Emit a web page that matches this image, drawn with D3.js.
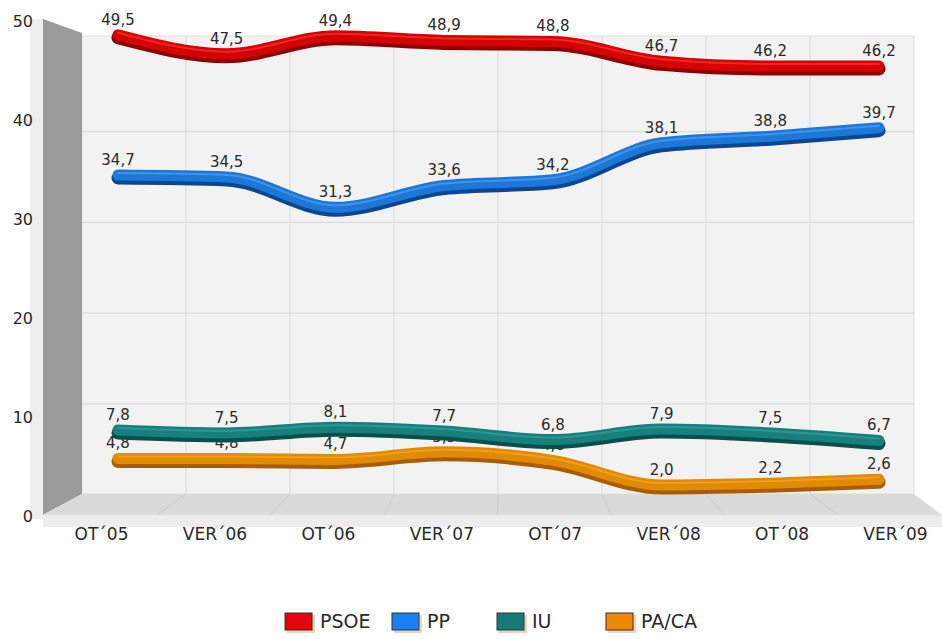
<!DOCTYPE html>
<html><head><meta charset="utf-8">
<script src="https://cdn.jsdelivr.net/npm/d3@7"></script>
<style>body{margin:0;background:#fff}svg{display:block}text{font-family:"DejaVu Sans",Verdana,sans-serif;fill:#2a2a2a}</style>
</head><body>
<svg id="c" width="942" height="639"></svg>
<script>
const categories = ["OT\u00b405","VER\u00b406","OT\u00b406","VER\u00b407","OT\u00b407","VER\u00b408","OT\u00b408","VER\u00b409"];
const psoe = [49.5,47.5,49.4,48.9,48.8,46.7,46.2,46.2];
const pp   = [34.7,34.5,31.3,33.6,34.2,38.1,38.8,39.7];
const iu   = [7.8,7.5,8.1,7.7,6.8,7.9,7.5,6.7];
const paca = [4.8,4.8,4.7,5.5,4.6,2.0,2.2,2.6];
const seriesNames = ["PSOE","PP","IU","PA/CA"];
const yTicks = [0,10,20,30,40,50];

const colors = {
  "PSOE":{main:"#d80000",dark:"#8e0000",light:"#ff5a5a",leg:"#e8000a"},
  "PP":{main:"#1c78d8",dark:"#0c4690",light:"#6fb4ff",leg:"#1a80f0"},
  "IU":{main:"#16807c",dark:"#0a4f4c",light:"#4fb0ac",leg:"#157a78"},
  "PA/CA":{main:"#e28a00",dark:"#a85e00",light:"#ffb84a",leg:"#f08800"}
};
const series = [
  {name:"PSOE",values:psoe},
  {name:"PP",values:pp},
  {name:"IU",values:iu},
  {name:"PA/CA",values:paca}
];

const svg = d3.select("#c");

// 3D frame geometry
const back = {x0:82,x1:914,y0:36,y1:494};
const front = {x0:43,x1:952,y:515};
const yBack = d3.scaleLinear().domain([0,50]).range([494.5,41]);
const yFront = d3.scaleLinear().domain([0,50]).range([516,21]);
const xBackBand = d3.scaleBand().domain(categories).range([back.x0,back.x1]);
const xFrontBand = d3.scaleBand().domain(categories).range([front.x0,front.x1]);

// thin light strip at left
svg.append("rect").attr("x",30).attr("y",19).attr("width",13).attr("height",500).attr("fill","#eeeeee");
// back wall
svg.append("rect").attr("x",back.x0).attr("y",back.y0).attr("width",back.x1-back.x0).attr("height",back.y1-back.y0)
  .attr("fill","#f2f2f2").attr("stroke","#e0e0e0");
// horizontal grid lines on back wall
svg.append("g").selectAll("line").data(yTicks.filter(d=>d>0&&d<50)).join("line")
  .attr("x1",back.x0).attr("x2",back.x1).attr("y1",d=>yBack(d)).attr("y2",d=>yBack(d))
  .attr("stroke","#dcdcdc").attr("stroke-width",1.2);
// vertical grid lines on back wall
svg.append("g").selectAll("line").data(categories.slice(1)).join("line")
  .attr("x1",d=>xBackBand(d)).attr("x2",d=>xBackBand(d)).attr("y1",back.y0).attr("y2",back.y1)
  .attr("stroke","#dcdcdc").attr("stroke-width",1.2);
// side wall
svg.append("path").attr("d",`M43,19 L82,33 L82,494 L43,515 Z`).attr("fill","#9b9b9b");
// floor
svg.append("path").attr("d",`M82,494 L914,494 L942,515 L43,515 Z`).attr("fill","#dadada");
svg.append("g").selectAll("line").data(categories.slice(1)).join("line")
  .attr("x1",d=>xBackBand(d)).attr("y1",494).attr("x2",d=>xFrontBand(d)).attr("y2",515)
  .attr("stroke","#cccccc").attr("stroke-width",1);
// front floor edge
svg.append("rect").attr("x",43).attr("y",515).attr("width",899).attr("height",12).attr("fill","#ededed");
svg.append("line").attr("x1",43).attr("x2",942).attr("y1",515).attr("y2",515).attr("stroke","#e4e4e4");

// axes labels
const yAxis = d3.axisLeft(yFront).tickValues(yTicks).tickSize(0).tickPadding(0).tickFormat(d3.format("d"));
const gy = svg.append("g").attr("transform","translate(33,0)").call(yAxis);
gy.select(".domain").remove();
gy.selectAll("text").attr("font-size",16).attr("font-family","DejaVu Sans").attr("fill","#2a2a2a");

const xCat = d3.scalePoint().domain(categories).range([101,895]);
const xAxis = d3.axisBottom(xCat).tickSize(0).tickPadding(0);
const gx = svg.append("g").attr("transform","translate(0,528)").call(xAxis);
gx.select(".domain").remove();
gx.selectAll("text").attr("font-size",17).attr("font-family","DejaVu Sans").attr("fill","#2a2a2a");

// data scales
const x = d3.scalePoint().domain(categories).range([118,879]);
const y = d3.scaleLinear().domain([0,50]).range([505,31]);
const line = d3.line().x((d,i)=>x(categories[i])).y(d=>y(d)).curve(d3.curveMonotoneX);

const drawOrder = ["PA/CA","IU","PP","PSOE"];
const fmt = v => d3.format(".1f")(v).replace(".",",");
drawOrder.forEach(name=>{
  const s = series.find(d=>d.name===name);
  const c = colors[name];
  const g = svg.append("g");
  g.append("path").attr("d",line(s.values)).attr("fill","none").attr("stroke",c.dark)
    .attr("stroke-width",13).attr("stroke-linecap","round").attr("transform","translate(0,2)");
  g.append("path").attr("d",line(s.values)).attr("fill","none").attr("stroke",c.main)
    .attr("stroke-width",11).attr("stroke-linecap","round").attr("transform","translate(0,-1)");
  g.append("path").attr("d",line(s.values)).attr("fill","none").attr("stroke",c.light)
    .attr("stroke-width",2).attr("stroke-linecap","round").attr("opacity",0.45).attr("transform","translate(0,-3)");
  g.selectAll("text").data(s.values).join("text")
    .attr("x",(d,i)=>x(categories[i])).attr("y",d=>y(d)-11)
    .attr("text-anchor","middle").attr("font-size",15).text(d=>fmt(d));
});

// legend
const legX = [285,392,497,606];
const leg = svg.append("g");
seriesNames.forEach((n,i)=>{
  const gg = leg.append("g").attr("transform",`translate(${legX[i]},613)`);
  gg.append("rect").attr("x",2).attr("y",2).attr("width",28).attr("height",18).attr("fill","#d8b890").attr("opacity",0.6);
  gg.append("rect").attr("x",0).attr("y",0).attr("width",27).attr("height",17).attr("fill",colors[n].leg).attr("stroke","#333").attr("stroke-width",1);
  gg.append("text").attr("x",35).attr("y",15).attr("font-size",19).text(n);
});
</script>
</body></html>
